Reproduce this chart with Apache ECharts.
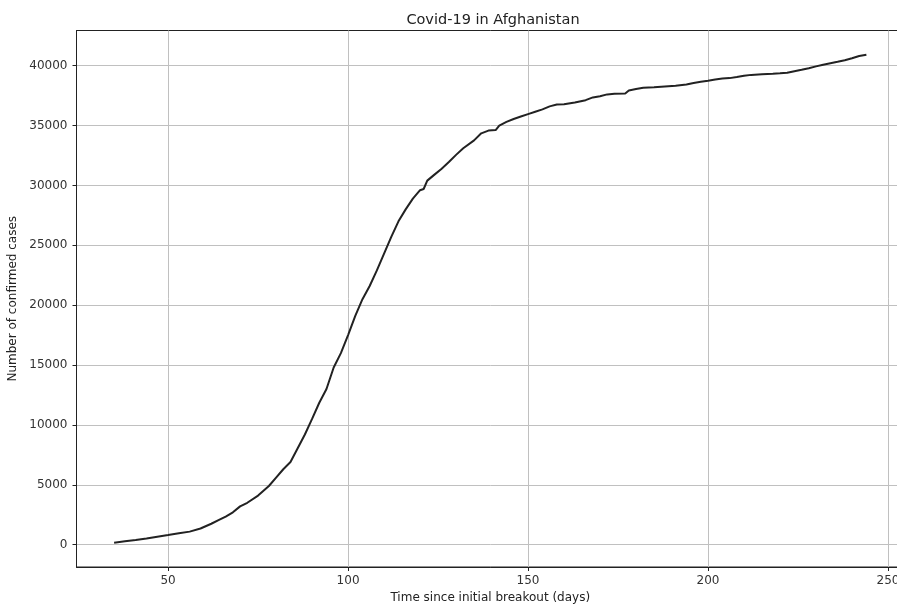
<!DOCTYPE html>
<html>
<head>
<meta charset="utf-8">
<script src="https://cdn.jsdelivr.net/npm/echarts@6/dist/echarts.min.js"></script>
<style>
html,body{margin:0;padding:0;background:#fff;overflow:hidden;}
#chart{width:911px;height:608px;}
</style>
</head>
<body>
<div id="chart"></div>
<script>
// Days since initial breakout (x) and confirmed cases (y)
const days = [35,38,41,44,47,50,53,56,59,62,64,66,68,70,72,75,78,80,82,84,86,88,90,92,94,96,98,100,102,104,106,108,110,112,114,116,118,120,121,122,124,126,128,130,132,135,137,139,141,142,144,146,148,150,152,154,156,158,160,163,166,168,170,172,174,177,178,180,182,185,188,191,194,196,198,200,202,204,206,208,210,212,215,218,220,222,224,226,228,230,232,234,236,238,240,242,244];
const cases = [170,290,400,520,660,800,950,1090,1350,1750,2050,2350,2700,3200,3500,4100,4900,5600,6300,6900,8050,9200,10500,11850,13000,14800,16000,17500,19100,20500,21600,22900,24300,25700,27000,28000,28900,29600,29700,30400,30900,31400,31950,32550,33100,33760,34350,34580,34620,35000,35300,35550,35750,35950,36150,36350,36600,36750,36770,36930,37120,37350,37450,37600,37660,37680,37930,38050,38150,38200,38260,38320,38430,38560,38650,38740,38840,38920,38960,39050,39150,39230,39290,39330,39360,39400,39530,39650,39780,39940,40080,40200,40320,40450,40620,40800,40910];
const xTicks = [50, 100, 150, 200, 250];
const yTicks = [0, 5000, 10000, 15000, 20000, 25000, 30000, 35000, 40000];

const titleText = 'Covid-19 in Afghanistan';
const xName = 'Time since initial breakout (days)';
const yName = 'Number of confirmed cases';

const seriesData = days.map((d, i) => [d, cases[i]]);

const chart = echarts.init(document.getElementById('chart'), null, {renderer: 'canvas'});
const font = 'DejaVu Sans';
chart.setOption({
  animation: false,
  backgroundColor: '#ffffff',
  title: {
    text: titleText,
    left: 488, top: 8, textAlign: 'center',
    textStyle: {fontFamily: font, fontSize: 14.5, fontWeight: 'normal', color: '#222'}
  },
  grid: {
    left: 76.5, right: 7, top: 30.5, bottom: 41,
    containLabel: false, outerBoundsMode: 'none',
    show: true, borderColor: '#222', borderWidth: 1, backgroundColor: 'transparent'
  },
  xAxis: {
    type: 'value',
    min: 24.55, max: 254.45, splitNumber: 5,
    name: xName, nameLocation: 'middle', nameGap: 25,
    nameTextStyle: {fontFamily: font, fontSize: 12, color: '#222'},
    axisLine: {show: true, onZero: false, lineStyle: {color: '#222', width: 1}},
    axisTick: {show: true, length: 4, customValues: xTicks, lineStyle: {color: '#222'}},
    axisLabel: {
      fontFamily: font, fontSize: 12, color: '#333', margin: 8,
      customValues: xTicks, formatter: v => String(v)
    },
    splitLine: {show: true, lineStyle: {color: '#c0c0c0', width: 1}}
  },
  yAxis: {
    type: 'value',
    min: -1863, max: 42936, splitNumber: 8,
    name: yName, nameLocation: 'middle', nameGap: 55, nameRotate: 90,
    nameTextStyle: {fontFamily: font, fontSize: 12, color: '#222'},
    axisLine: {show: true, onZero: false, lineStyle: {color: '#222', width: 1}},
    axisTick: {show: true, length: 4, customValues: yTicks, lineStyle: {color: '#222'}},
    axisLabel: {
      fontFamily: font, fontSize: 12, color: '#333', margin: 9,
      customValues: yTicks, formatter: v => String(v)
    },
    splitLine: {show: true, lineStyle: {color: '#c0c0c0', width: 1}}
  },
  series: [{
    type: 'line',
    data: seriesData,
    showSymbol: false,
    smooth: false,
    lineStyle: {color: '#222222', width: 2}
  }]
});
</script>
</body>
</html>
